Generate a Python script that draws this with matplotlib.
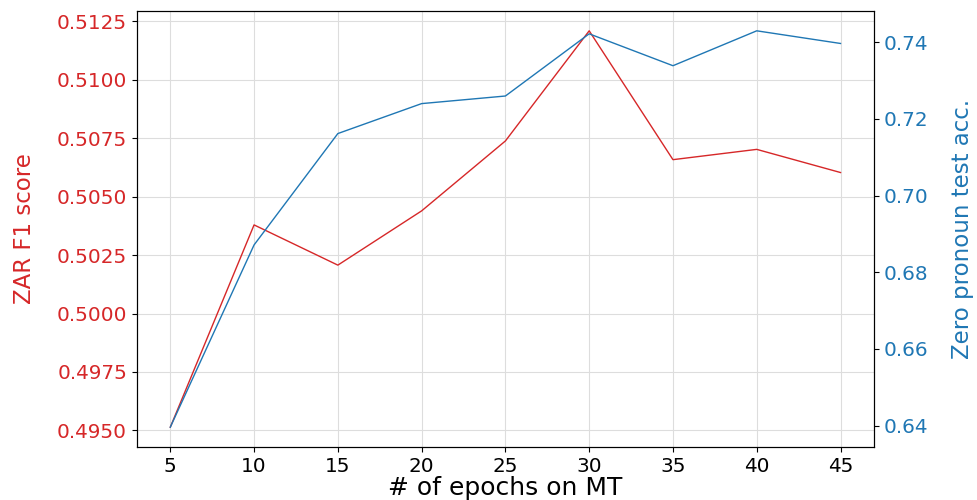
import matplotlib
matplotlib.use("Agg")
import matplotlib.pyplot as plt
from matplotlib.ticker import FormatStrFormatter

epochs = [5, 10, 15, 20, 25, 30, 35, 40, 45]
zar_f1 = [0.49514, 0.50379, 0.50207, 0.50439, 0.50738, 0.51209, 0.50658, 0.50702, 0.50603]
zp_acc = [0.6396, 0.68713, 0.71617, 0.72398, 0.72596, 0.74218, 0.73386, 0.74296, 0.73966]
f1_ticks = [0.4950, 0.4975, 0.5000, 0.5025, 0.5050, 0.5075, 0.5100, 0.5125]

RED = "tab:red"
BLUE = "tab:blue"

fig, ax1 = plt.subplots(figsize=(9.77, 5.0), dpi=100)
fig.subplots_adjust(left=0.140, right=0.8946, top=0.978, bottom=0.106)

ax1.plot(epochs, zar_f1, color=RED, linewidth=1.0)
ax1.set_xlabel("# of epochs on MT", fontsize=18, labelpad=0)
ax1.set_ylabel("ZAR F1 score", color=RED, fontsize=16.5, labelpad=15)
ax1.tick_params(axis="y", labelcolor=RED, labelsize=14.4)
ax1.tick_params(axis="x", labelsize=14.4)
ax1.set_xticks(epochs)
ax1.set_yticks(f1_ticks)
ax1.yaxis.set_major_formatter(FormatStrFormatter("%.4f"))
ax1.grid(True, color="#dddddd", linewidth=0.8)

ax2 = ax1.twinx()
ax2.plot(epochs, zp_acc, color=BLUE, linewidth=1.0)
ax2.set_ylabel("Zero pronoun test acc.", color=BLUE, fontsize=16.5, labelpad=16)
ax2.tick_params(axis="y", labelcolor=BLUE, labelsize=14.4)
ax2.yaxis.set_major_formatter(FormatStrFormatter("%.2f"))

fig.savefig("out.png", dpi=100)
